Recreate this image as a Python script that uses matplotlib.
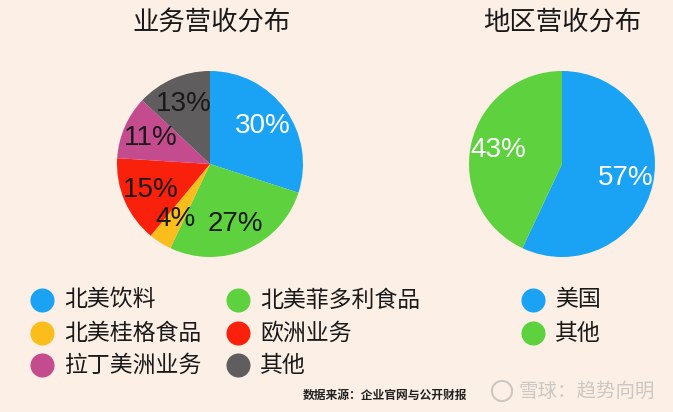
import matplotlib.pyplot as plt

plt.rcParams['font.family'] = ['Noto Sans CJK SC', 'DejaVu Sans']

# data
biz_labels = ['北美饮料', '北美菲多利食品', '北美桂格食品', '欧洲业务', '拉丁美洲业务', '其他']
biz_values = [30, 27, 4, 15, 11, 13]
biz_colors = ['#1aa3f5', '#5ed13f', '#fbbd1c', '#f9200c', '#c54b8f', '#5f5d5d']
biz_text = ['white', '#1a1a1a', '#1a1a1a', '#1a1a1a', '#1a1a1a', '#1a1a1a']

reg_labels = ['美国', '其他']
reg_values = [57, 43]
reg_colors = ['#1aa3f5', '#5ed13f']
reg_text = ['white', 'white']

W, H = 673, 412
BG = '#fcefe5'

fig = plt.figure(figsize=(W / 100, H / 100), dpi=100, facecolor=BG)


def pie_axes(cx, cy, r):
    return fig.add_axes([(cx - r) / W, (H - cy - r) / H, 2 * r / W, 2 * r / H])


def draw_pie(ax, values, colors, tcolors):
    wedges, texts, autotexts = ax.pie(
        values, colors=colors, startangle=90, counterclock=False,
        autopct='%d%%', pctdistance=0.7,
        wedgeprops=dict(linewidth=0))
    for t, c in zip(autotexts, tcolors):
        t.set_color(c)
        t.set_fontsize(20)
        t.set_family(['Liberation Sans', 'DejaVu Sans'])
    ax.set_xlim(-1, 1)
    ax.set_ylim(-1, 1)
    ax.set_aspect('equal')


ax1 = pie_axes(210, 164, 93)
draw_pie(ax1, biz_values, biz_colors, biz_text)
ax2 = pie_axes(562, 164, 93)
draw_pie(ax2, reg_values, reg_colors, reg_text)

# overlay in pixel coordinates for titles and legends
ov = fig.add_axes([0, 0, 1, 1], facecolor='none')
ov.set_xlim(0, W)
ov.set_ylim(H, 0)
ov.axis('off')

ov.text(212, 22, '业务营收分布', fontsize=19, ha='center', va='center', color='#1a1a1a')
ov.text(562, 22, '地区营收分布', fontsize=19, ha='center', va='center', color='#1a1a1a')

leg_x = [42, 42, 42, 238, 238, 238]
leg_y = [300, 333, 365, 300, 333, 365]
order = [0, 2, 4, 1, 3, 5]
for k, i in enumerate(order):
    ov.scatter(leg_x[k], leg_y[k], s=300, color=biz_colors[i], linewidths=0)
    ov.text(leg_x[k] + 22, leg_y[k], biz_labels[i], fontsize=16.5,
            ha='left', va='center', color='#1a1a1a')

for k in range(len(reg_labels)):
    y = 300 + 33 * k
    ov.scatter(533, y, s=300, color=reg_colors[k], linewidths=0)
    ov.text(555, y, reg_labels[k], fontsize=16.5, ha='left', va='center', color='#1a1a1a')

ov.text(385, 395, '数据来源：企业官网与公开财报', fontsize=8.5, fontweight='bold',
        ha='center', va='center', color='#222222')
ov.text(587, 391, '雪球：趋势向明', fontsize=14, ha='center', va='center', color='#cdc7c3')
ov.scatter(502, 391, s=210, facecolors='none', edgecolors='#cdc7c3', linewidths=1.5)

plt.savefig('out.png', dpi=100, facecolor=BG)
